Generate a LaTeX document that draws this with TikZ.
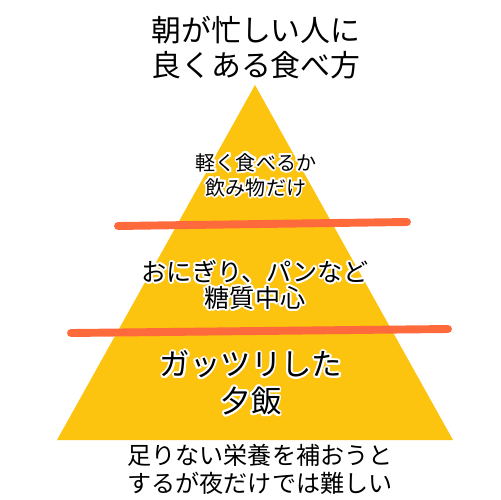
\documentclass[tikz,border=0pt]{standalone}
\usepackage{fontspec}
\setmainfont{Noto Sans CJK JP}
\usepackage[copies]{contour}
\usepackage{tikz}
\usetikzlibrary{arrows.meta, positioning}
\definecolor{pyramidyellow}{HTML}{FCC30F}
\definecolor{barorange}{HTML}{FF6A3D}
\contourlength{1.1pt}
\newcommand{\halo}[1]{\contour{white}{#1}}

\begin{document}
\begin{tikzpicture}[x=0.02cm, y=-0.02cm,
    divider/.style={draw=barorange, line width=4.5pt, line cap=round},
    label/.style={align=center, inner sep=0pt, text=black}]
    \useasboundingbox (0,0) rectangle (500,500);
    \coordinate (apex) at (255,85);
    \coordinate (baseL) at (57,440);
    \coordinate (baseR) at (453,440);
    \fill[pyramidyellow] (apex) -- (baseL) -- (baseR) -- cycle;

    \coordinate (d1l) at (118,226);
    \coordinate (d1r) at (407,222);
    \coordinate (d2l) at (71,333);
    \coordinate (d2r) at (448,329);
    \draw[divider] (d1l) -- (d1r);
    \draw[divider] (d2l) -- (d2r);

    \node[label, font=\fontsize{17}{20}\selectfont] (title) at (256,48) {朝が忙しい人に\\良くある食べ方};
    \node[label, font=\fontsize{11.4}{14.2}\selectfont] (top) at (256,176) {\halo{軽く食べるか}\\\halo{飲み物だけ}};
    \node[label, font=\fontsize{14.3}{14.8}\selectfont] (middle) at (255,286) {\halo{おにぎり、パンなど}\\\halo{糖質中心}};
    \node[label, font=\fontsize{17.3}{21}\selectfont] (bottom) at (251,384) {\halo{ガッツリした}\\\halo{夕飯}};
    \node[label, font=\fontsize{13.7}{16}\selectfont] (note) at (260,469) {足りない栄養を補おうと\\するが夜だけでは難しい};
\end{tikzpicture}
\end{document}
